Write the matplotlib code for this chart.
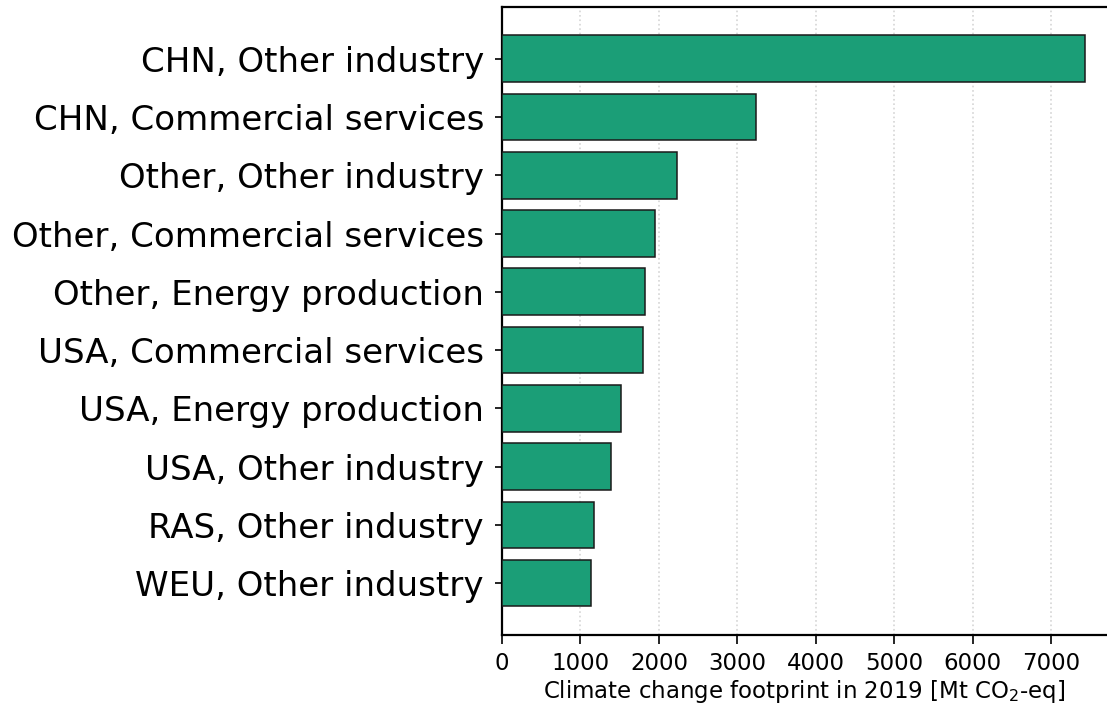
#!/usr/bin/env python3

# Top ten region/sector contributions to the 2019 climate change footprint

import matplotlib
matplotlib.use("Agg")
import matplotlib.pyplot as plt

# Data (Mt CO2-eq), largest first
labels = [
    "CHN, Other industry",
    "CHN, Commercial services",
    "Other, Other industry",
    "Other, Commercial services",
    "Other, Energy production",
    "USA, Commercial services",
    "USA, Energy production",
    "USA, Other industry",
    "RAS, Other industry",
    "WEU, Other industry",
]
footprint = [7436, 3242, 2227, 1953, 1826, 1801, 1513, 1390, 1172, 1131]

fig = plt.figure(figsize=(11.07, 7.13), dpi=100)
ax = fig.add_axes([0.4535, 0.1094, 0.5456, 0.881])

ax.barh(range(len(labels)), footprint, height=0.8,
        color="#1b9e77", edgecolor="#1a1a1a", linewidth=1.1, zorder=3)
ax.set_yticks(range(len(labels)))
ax.set_yticklabels(labels, fontsize=24.5)
ax.invert_yaxis()

ax.set_xlim(0, 7700)
ax.set_xticks(range(0, 8000, 1000))
ax.tick_params(axis="x", labelsize=16.5, length=6.5, width=1.2, pad=6)
ax.tick_params(axis="y", length=5, width=1.2, pad=8)
ax.set_xlabel("Climate change footprint in 2019 [Mt CO$_2$-eq]",
              fontsize=16.5, labelpad=2)

ax.grid(axis="x", linestyle=":", color="#d5d5d5", linewidth=1.2, zorder=0)
for side in ax.spines.values():
    side.set_linewidth(1.6)
ax.spines["right"].set_visible(False)

fig.savefig("out.png", dpi=100)
